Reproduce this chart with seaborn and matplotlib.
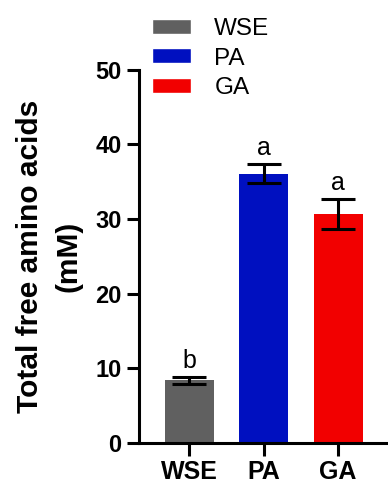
import numpy as np
import pandas as pd
import matplotlib
matplotlib.use("Agg")
import matplotlib.pyplot as plt
import seaborn as sns
from matplotlib.patches import Patch

groups = ["WSE", "PA", "GA"]
means = [8.4, 36.1, 30.7]
errors = [0.45, 1.3, 2.05]
letters = ["b", "a", "a"]
colors = ["#606060", "#0010C0", "#F20000"]

sns.set_style("ticks")
plt.rcParams["font.family"] = ["Liberation Sans", "DejaVu Sans"]
plt.rcParams.update({"text.color": "black", "axes.labelcolor": "black",
                     "xtick.color": "black", "ytick.color": "black",
                     "axes.edgecolor": "black"})

df = pd.DataFrame({"group": groups, "mean": means})

fig = plt.figure(figsize=(3.88, 4.88), dpi=100)
ax = fig.add_axes([0.358, 0.092, 0.64, 0.765])

sns.barplot(data=df, x="group", y="mean", hue="group", palette=colors,
            width=0.66, legend=False, ax=ax, edgecolor="none", saturation=1)
ax.errorbar(range(len(groups)), means, yerr=errors, fmt="none", ecolor="black",
            elinewidth=2.2, capsize=12, capthick=2.2, zorder=5)
for i, (m, e, l) in enumerate(zip(means, errors, letters)):
    ax.text(i, m + e + 0.5, l, ha="center", va="bottom", fontsize=18)

ax.set_xlim(-0.68, 2.66)
ax.set_ylim(0, 50)
ax.set_yticks([0, 10, 20, 30, 40, 50])
ax.set_xlabel("")
ax.set_ylabel("Total free amino acids\n(mM)", fontsize=21.5, fontweight="bold",
              linespacing=1.5, labelpad=9)
ax.tick_params(axis="both", width=2.2, length=9, labelsize=17)
ax.tick_params(axis="x", labelsize=18)
for lab in ax.get_xticklabels() + ax.get_yticklabels():
    lab.set_fontweight("bold")
for s in ["top", "right"]:
    ax.spines[s].set_visible(False)
for s in ["left", "bottom"]:
    ax.spines[s].set_linewidth(2.2)

handles = [Patch(facecolor=c, label=g) for c, g in zip(colors, groups)]
fig.legend(handles=handles, loc="upper left", bbox_to_anchor=(0.35, 0.996),
           frameon=False, fontsize=17.5, handlelength=1.63, handleheight=0.57,
           labelspacing=0.32, handletextpad=0.95, borderpad=0.15)

fig.savefig("out.png", dpi=100)
